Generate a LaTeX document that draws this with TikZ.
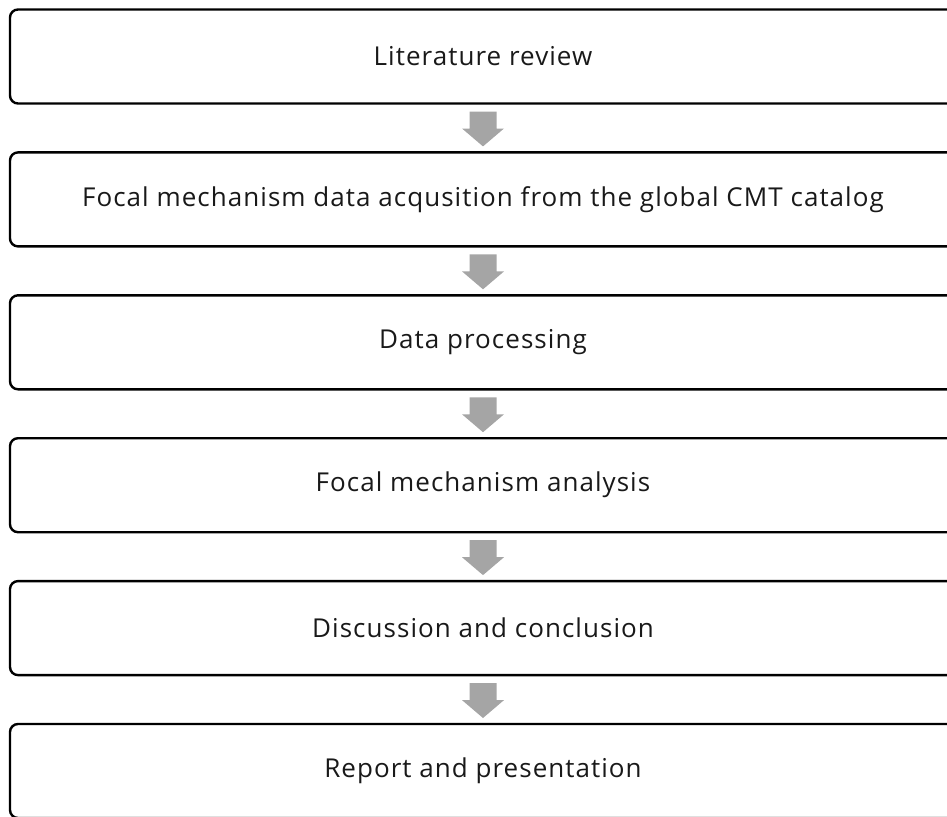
\documentclass[tikz,border=0pt]{standalone}
\usepackage{fontspec}
\setmainfont{Open Sans}[LetterSpace=4]
\usetikzlibrary{calc}
\definecolor{arrowgray}{HTML}{A5A5A5}
\tikzset{
  stage/.style={draw=black, line width=2.4pt, rounded corners=8pt,
    minimum width=946pt, minimum height=94pt, inner sep=0pt, outer sep=0pt,
    font=\fontsize{26}{30}\selectfont, text=black!90},
  flowfill/.style={fill=arrowgray, draw=none}
}
% block arrow in the gap between two stacked stages (y grows downwards)
\newcommand\flowarrow[2]{%
  \fill[flowfill] ($(#1.south)+(-13.5,8)$) -- ($(#1.south)+(13.5,8)$)
    -- ($(#1.south)+(13.5,25)$) -- ($(#1.south)+(21,25)$)
    -- ($(#2.north)+(0,-6)$)
    -- ($(#1.south)+(-21,25)$) -- ($(#1.south)+(-13.5,25)$) -- cycle;}
\begin{document}
\begin{tikzpicture}[x=1pt, y=-1pt]
  \useasboundingbox (0,0) rectangle (947,816);
  \clip (0,0) rectangle (947,816);
  \node[stage] (s1) at (483,56.5)  {Literature review};
  \node[stage] (s2) at (483,199.4) {Focal mechanism data acqusition from the global CMT catalog};
  \node[stage] (s3) at (483,342.3) {Data processing};
  \node[stage] (s4) at (483,485.2) {Focal mechanism analysis};
  \node[stage] (s5) at (483,628.1) {Discussion and conclusion};
  \node[stage] (s6) at (483,771)   {Report and presentation};
  \flowarrow{s1}{s2}
  \flowarrow{s2}{s3}
  \flowarrow{s3}{s4}
  \flowarrow{s4}{s5}
  \flowarrow{s5}{s6}
\end{tikzpicture}
\end{document}
